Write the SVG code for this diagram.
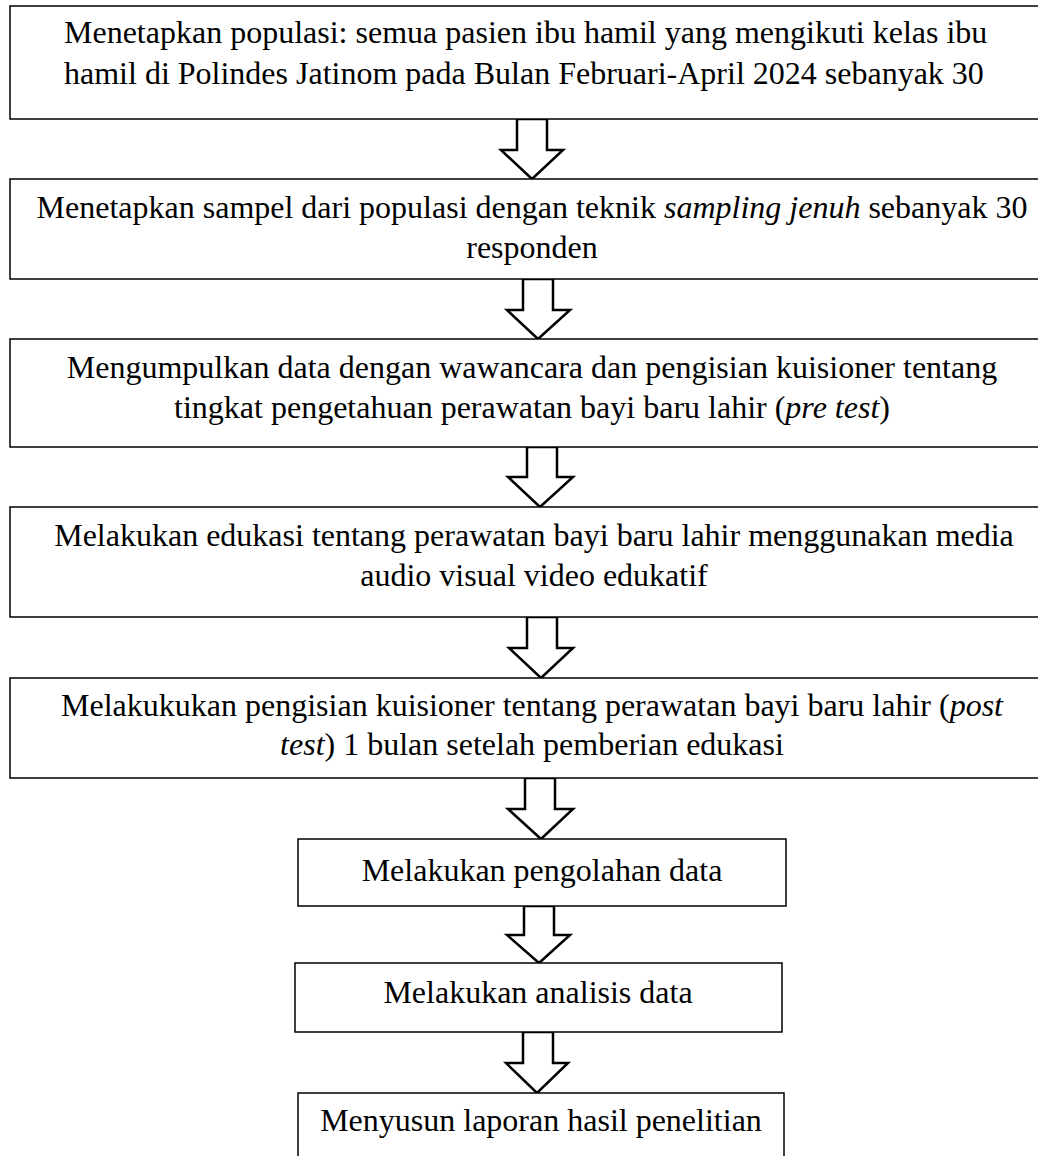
<svg xmlns="http://www.w3.org/2000/svg" width="1038" height="1156" viewBox="0 0 1038 1156">
<style>
.box{fill:#fff;stroke:#000;stroke-width:1.5}
.arr{fill:#fff;stroke:#000;stroke-width:2.5;stroke-linejoin:miter}
text{font-family:"Liberation Serif","Times New Roman",serif;font-size:32px;fill:#000}
.c{text-anchor:middle}
.i{font-style:italic}
</style>
<rect width="1038" height="1156" fill="#fff"/>
<g id="connectors">
<polygon class="arr" points="517,119 547,119 547,150 563,150 532,179 501,150 517,150"/>
<polygon class="arr" points="523,279 553,279 553,310 570,310 538,339 507,310 523,310"/>
<polygon class="arr" points="527,447 557,447 557,477 573,477 540,507 508,477 527,477"/>
<polygon class="arr" points="527,617 557,617 557,648 573,648 541,678 509,648 527,648"/>
<polygon class="arr" points="525,778 555,778 555,809 573,809 541,839 508,809 525,809"/>
<polygon class="arr" points="524,906 554,906 554,935 570,935 539,963 507,935 524,935"/>
<polygon class="arr" points="523,1032 553,1032 553,1063 568,1063 537,1093 506,1063 523,1063"/>
</g>
<g id="n1">
<rect class="box" x="10" y="6" width="1060" height="113"/>
<text x="64" y="43">Menetapkan populasi: semua pasien ibu hamil yang mengikuti kelas ibu</text>
<text x="64" y="84">hamil di Polindes Jatinom pada Bulan Februari-April 2024 sebanyak 30</text>
</g>
<g id="n2">
<rect class="box" x="10" y="179" width="1060" height="100"/>
<text class="c" x="532" y="218">Menetapkan sampel dari populasi dengan teknik <tspan class="i">sampling jenuh</tspan> sebanyak 30</text>
<text class="c" x="532" y="258">responden</text>
</g>
<g id="n3">
<rect class="box" x="10" y="339" width="1060" height="108"/>
<text class="c" x="532" y="378">Mengumpulkan data dengan wawancara dan pengisian kuisioner tentang</text>
<text class="c" x="532" y="418">tingkat pengetahuan perawatan bayi baru lahir (<tspan class="i">pre test</tspan>)</text>
</g>
<g id="n4">
<rect class="box" x="10" y="507" width="1060" height="110"/>
<text class="c" x="534" y="546">Melakukan edukasi tentang perawatan bayi baru lahir menggunakan media</text>
<text class="c" x="534" y="586">audio visual video edukatif</text>
</g>
<g id="n5">
<rect class="box" x="10" y="678" width="1060" height="100"/>
<text class="c" x="532" y="716">Melakukukan pengisian kuisioner tentang perawatan bayi baru lahir (<tspan class="i">post</tspan></text>
<text class="c" x="532" y="755"><tspan class="i">test</tspan>) 1 bulan setelah pemberian edukasi</text>
</g>
<g id="n6">
<rect class="box" x="298" y="839" width="488" height="67"/>
<text class="c" x="542" y="881">Melakukan pengolahan data</text>
</g>
<g id="n7">
<rect class="box" x="295" y="963" width="487" height="69"/>
<text class="c" x="538" y="1003">Melakukan analisis data</text>
</g>
<g id="n8">
<rect class="box" x="298" y="1093" width="486" height="80"/>
<text class="c" x="541" y="1131">Menyusun laporan hasil penelitian</text>
</g>
</svg>
